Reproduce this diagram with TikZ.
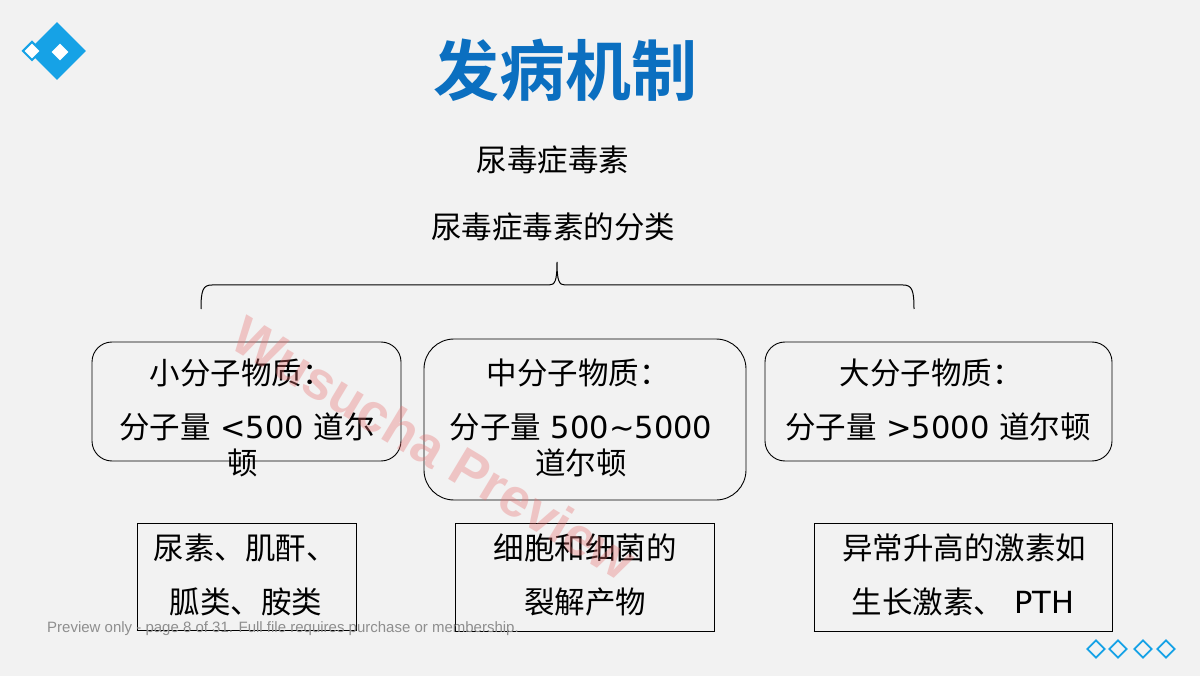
\documentclass[tikz,border=0pt]{standalone}
\usepackage{fontspec}
\setmainfont{Noto Sans CJK SC}
\newfontfamily\titlefont{Noto Sans CJK SC Bold}
\newfontfamily\footfont{Liberation Sans}
\newfontfamily\lat{DejaVu Sans}
\usetikzlibrary{positioning,shapes.geometric}
\definecolor{bgcolor}{HTML}{F2F2F2}
\definecolor{titleblue}{HTML}{0B6FC0}
\definecolor{logoblue}{HTML}{16A2E6}
\definecolor{footgray}{HTML}{8E8E8E}
\definecolor{markpink}{HTML}{E87070}
\tikzset{
    rbox/.style={draw, line width=0.9pt, inner sep=0pt, rounded corners=#1},
    sbox/.style={draw, line width=0.9pt, inner sep=0pt},
    body/.style={inner sep=0pt, font=\fontsize{30.5}{36}\selectfont},
    diam/.style={diamond, inner sep=0pt, minimum size=#1},
}
\begin{document}
\begin{tikzpicture}[x=1pt,y=-1pt]
    \fill[bgcolor] (0,0) rectangle (1200,676);

    % logo
    \node[diam=58pt, fill=logoblue] (logo) at (57,51) {};
    \node[diam=17pt, fill=white] (logoin) at (60,52) {};
    \node[diam=19pt, fill=white, draw=logoblue, line width=2pt] (logosm) at (32,51) {};

    % title
    \node[inner sep=0pt, text=titleblue, font=\titlefont\fontsize{66}{72}\selectfont] (title) at (565,70) {发病机制};

    \node[body] (toxin) at (553,160) {尿毒症毒素};
    \node[body] (classes) at (553,227) {尿毒症毒素的分类};

    % brace
    \coordinate (BL) at (201,309);
    \coordinate (BT) at (557,262);
    \coordinate (BR) at (914,309);
    \draw[line width=1pt] (BL) .. controls (201,290) and (203,285) .. (212,285)
        -- (549,285) .. controls (555,285) and (557,281) .. (BT)
        .. controls (557,281) and (559,285) .. (565,285)
        -- (903,285) .. controls (912,285) and (914,290) .. (BR);

    % rounded boxes
    \node[rbox=20pt, minimum width=309pt, minimum height=119pt] (small) at (246.5,401.5) {};
    \node[rbox=30pt, minimum width=322pt, minimum height=161pt] (middle) at (585,419.5) {};
    \node[rbox=20pt, minimum width=347pt, minimum height=119pt] (large) at (938.5,401.5) {};

    \begin{scope}[body]
        \node (s1) at (241,373) {小分子物质：};
        \node (s2) at (247,427) {分子量{\lat\ <500 }道尔};
        \node (s3) at (243,463) {顿};
        \node (m1) at (578,373) {中分子物质：};
        \node (m2) at (581,427) {分子量{\lat\ 500\char"007E 5000}};
        \node (m3) at (581,463) {道尔顿};
        \node (l1) at (931,373) {大分子物质：};
        \node (l2) at (938,427) {分子量{\lat\ >5000 }道尔顿};
    \end{scope}

    % example boxes
    \node[sbox, minimum width=219pt, minimum height=107pt] (smallex) at (246.5,576.5) {};
    \node[sbox, minimum width=259pt, minimum height=108pt] (middleex) at (584.5,577) {};
    \node[sbox, minimum width=298pt, minimum height=108pt] (largeex) at (963,577) {};
    \foreach \b in {smallex,middleex,largeex} {
            \draw[line width=1.8pt] (\b.south west) -- (\b.south east);
        }

    \begin{scope}[body]
        \node (sx1) at (245,548) {尿素、肌酐、};
        \node (sx2) at (246,602) {胍类、胺类};
        \node (mx1) at (585,548) {细胞和细菌的};
        \node (mx2) at (585,602) {裂解产物};
        \node (lx1) at (964,548) {异常升高的激素如};
        \node (lx2) at (963,602) {生长激素、{\lat\ PTH}};
    \end{scope}

    % corner marks
    \foreach \x [count=\i] in {1096,1118,1143,1166} {
            \node[diam=18pt, draw=logoblue, line width=1.8pt] (dm\i) at (\x,649) {};
        }

    % preview marks
    \node[anchor=west, inner sep=0pt, text=footgray, font=\footfont\fontsize{15}{17}\selectfont] (foot) at (47,629)
        {Preview only - page 8 of 31. Full file requires purchase or membership.};
    \node[inner sep=0pt, rotate=-31, text=markpink, opacity=0.35, font=\footfont\bfseries\fontsize{54}{58}\selectfont] (wmark) at (434,448)
        {Wusucha Preview};
\end{tikzpicture}
\end{document}
